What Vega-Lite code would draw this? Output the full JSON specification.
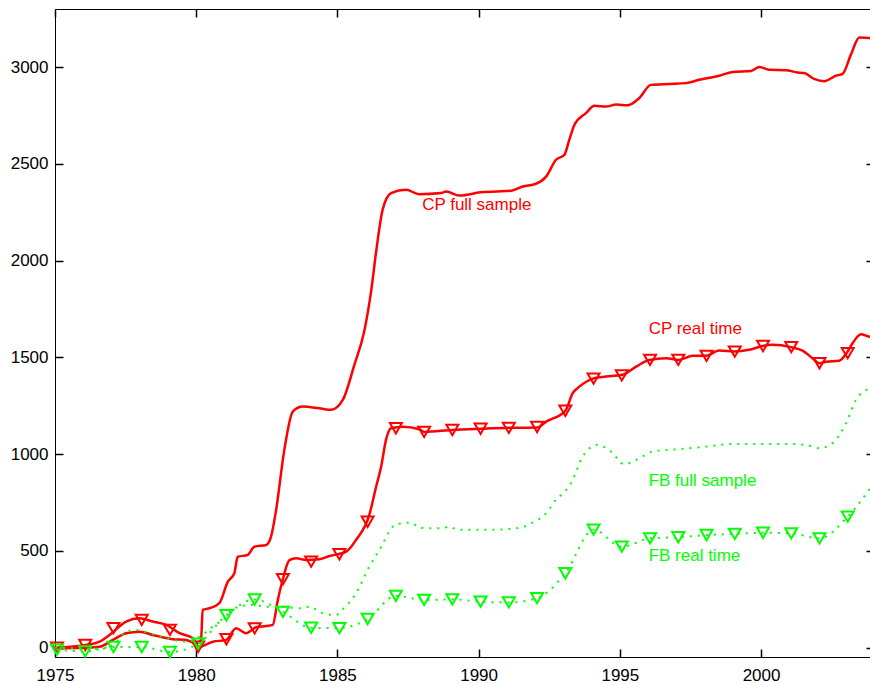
{
  "$schema": "https://vega.github.io/schema/vega-lite/v6.json",
  "autosize": "none",
  "width": 819,
  "height": 648,
  "padding": {"left": 55, "top": 9, "right": 0, "bottom": 28},
  "background": "white",
  "config": {"view": {"stroke": null}},
  "datasets": {
    "cpfull": [
      {"year": 1975.0, "value": -3}, {"year": 1975.98, "value": 0}, {"year": 1976.58, "value": 5},
      {"year": 1977.05, "value": 40}, {"year": 1977.52, "value": 75}, {"year": 1977.99, "value": 83},
      {"year": 1978.46, "value": 66}, {"year": 1979.17, "value": 44}, {"year": 1979.64, "value": 40},
      {"year": 1980.0, "value": 23}, {"year": 1980.17, "value": 40}, {"year": 1980.23, "value": 195},
      {"year": 1980.47, "value": 204}, {"year": 1980.82, "value": 230}, {"year": 1981.12, "value": 341},
      {"year": 1981.35, "value": 385}, {"year": 1981.47, "value": 470}, {"year": 1981.82, "value": 479},
      {"year": 1982.06, "value": 522}, {"year": 1982.48, "value": 531}, {"year": 1982.65, "value": 574},
      {"year": 1982.83, "value": 712}, {"year": 1983.12, "value": 1022}, {"year": 1983.42, "value": 1220},
      {"year": 1983.77, "value": 1246}, {"year": 1984.36, "value": 1237}, {"year": 1984.78, "value": 1229},
      {"year": 1985.19, "value": 1280}, {"year": 1985.6, "value": 1461}, {"year": 1985.96, "value": 1642},
      {"year": 1986.2, "value": 1849}, {"year": 1986.38, "value": 2056}, {"year": 1986.6, "value": 2262},
      {"year": 1986.9, "value": 2349}, {"year": 1987.43, "value": 2366}, {"year": 1987.9, "value": 2343},
      {"year": 1988.67, "value": 2349}, {"year": 1988.85, "value": 2357}, {"year": 1989.32, "value": 2336},
      {"year": 1990.14, "value": 2354}, {"year": 1991.15, "value": 2361}, {"year": 1991.56, "value": 2383},
      {"year": 1992.03, "value": 2397}, {"year": 1992.39, "value": 2434}, {"year": 1992.74, "value": 2521},
      {"year": 1993.04, "value": 2547}, {"year": 1993.21, "value": 2624}, {"year": 1993.39, "value": 2701},
      {"year": 1993.8, "value": 2762}, {"year": 1994.1, "value": 2800}, {"year": 1994.51, "value": 2796},
      {"year": 1994.87, "value": 2806}, {"year": 1995.28, "value": 2803}, {"year": 1995.69, "value": 2840},
      {"year": 1996.1, "value": 2908}, {"year": 1996.75, "value": 2913}, {"year": 1997.34, "value": 2917},
      {"year": 1997.81, "value": 2934}, {"year": 1998.52, "value": 2955}, {"year": 1998.99, "value": 2975},
      {"year": 1999.64, "value": 2980}, {"year": 1999.94, "value": 3000}, {"year": 2000.29, "value": 2986},
      {"year": 2000.88, "value": 2984}, {"year": 2001.29, "value": 2972}, {"year": 2001.53, "value": 2969},
      {"year": 2001.88, "value": 2939}, {"year": 2002.24, "value": 2927}, {"year": 2002.65, "value": 2955},
      {"year": 2002.89, "value": 2965}, {"year": 2003.18, "value": 3063}, {"year": 2003.48, "value": 3153},
      {"year": 2003.83, "value": 3150}, {"year": 2003.97, "value": 3146}
    ],
    "cpreal": [
      {"year": 1975.0, "value": 0}, {"year": 1976.1, "value": 14}, {"year": 1976.58, "value": 31},
      {"year": 1976.93, "value": 66}, {"year": 1977.52, "value": 135}, {"year": 1977.99, "value": 152},
      {"year": 1978.46, "value": 135}, {"year": 1978.94, "value": 118}, {"year": 1979.41, "value": 75},
      {"year": 1979.88, "value": 49}, {"year": 1980.09, "value": 4}, {"year": 1980.59, "value": 31},
      {"year": 1981.06, "value": 40}, {"year": 1981.41, "value": 101}, {"year": 1981.77, "value": 75},
      {"year": 1982.12, "value": 106}, {"year": 1982.48, "value": 112}, {"year": 1982.71, "value": 118},
      {"year": 1982.89, "value": 247}, {"year": 1983.06, "value": 350}, {"year": 1983.3, "value": 453},
      {"year": 1983.54, "value": 462}, {"year": 1983.89, "value": 453}, {"year": 1984.36, "value": 457},
      {"year": 1984.72, "value": 474}, {"year": 1985.31, "value": 496}, {"year": 1985.66, "value": 557},
      {"year": 1986.13, "value": 686}, {"year": 1986.37, "value": 832}, {"year": 1986.55, "value": 936},
      {"year": 1986.72, "value": 1074}, {"year": 1986.9, "value": 1134}, {"year": 1987.31, "value": 1142},
      {"year": 1987.9, "value": 1129}, {"year": 1988.08, "value": 1115}, {"year": 1989.07, "value": 1125},
      {"year": 1990.06, "value": 1131}, {"year": 1991.09, "value": 1136}, {"year": 1992.08, "value": 1138},
      {"year": 1992.39, "value": 1168}, {"year": 1993.07, "value": 1224}, {"year": 1993.33, "value": 1315},
      {"year": 1993.57, "value": 1349}, {"year": 1994.1, "value": 1393}, {"year": 1994.51, "value": 1401},
      {"year": 1995.08, "value": 1410}, {"year": 1995.58, "value": 1452}, {"year": 1996.04, "value": 1487},
      {"year": 1996.64, "value": 1496}, {"year": 1997.08, "value": 1487}, {"year": 1997.58, "value": 1508},
      {"year": 1998.05, "value": 1508}, {"year": 1998.52, "value": 1535}, {"year": 1999.05, "value": 1530},
      {"year": 1999.58, "value": 1539}, {"year": 2000.05, "value": 1559}, {"year": 2000.41, "value": 1565},
      {"year": 2001.06, "value": 1553}, {"year": 2001.47, "value": 1535}, {"year": 2001.82, "value": 1496},
      {"year": 2002.06, "value": 1470}, {"year": 2002.3, "value": 1478}, {"year": 2002.77, "value": 1483},
      {"year": 2003.03, "value": 1522}, {"year": 2003.24, "value": 1573}, {"year": 2003.54, "value": 1620},
      {"year": 2003.83, "value": 1607}, {"year": 2003.97, "value": 1606}
    ],
    "cpmark": [
      {"year": 1975.07, "value": 0}, {"year": 1976.07, "value": 14}, {"year": 1977.07, "value": 101},
      {"year": 1978.07, "value": 144}, {"year": 1979.07, "value": 92}, {"year": 1980.07, "value": 5},
      {"year": 1981.07, "value": 44}, {"year": 1982.07, "value": 100}, {"year": 1983.07, "value": 354},
      {"year": 1984.07, "value": 445}, {"year": 1985.07, "value": 483}, {"year": 1986.07, "value": 651},
      {"year": 1987.07, "value": 1134}, {"year": 1988.07, "value": 1115}, {"year": 1989.07, "value": 1125},
      {"year": 1990.07, "value": 1131}, {"year": 1991.07, "value": 1136}, {"year": 1992.07, "value": 1140},
      {"year": 1993.07, "value": 1224}, {"year": 1994.07, "value": 1390}, {"year": 1995.07, "value": 1407},
      {"year": 1996.07, "value": 1487}, {"year": 1997.07, "value": 1487}, {"year": 1998.07, "value": 1508},
      {"year": 1999.07, "value": 1530}, {"year": 2000.07, "value": 1559}, {"year": 2001.07, "value": 1553},
      {"year": 2002.07, "value": 1470}, {"year": 2003.07, "value": 1522}
    ],
    "fbfull": [
      {"year": 1975.0, "value": 0}, {"year": 1976.58, "value": -6}, {"year": 1977.05, "value": 14},
      {"year": 1977.52, "value": 83}, {"year": 1977.87, "value": 92}, {"year": 1978.35, "value": 75},
      {"year": 1978.94, "value": 49}, {"year": 1979.64, "value": 31}, {"year": 1980.12, "value": 57},
      {"year": 1980.59, "value": 109}, {"year": 1981.06, "value": 160}, {"year": 1981.29, "value": 200},
      {"year": 1982.0, "value": 222}, {"year": 1982.48, "value": 212}, {"year": 1983.06, "value": 212},
      {"year": 1983.65, "value": 204}, {"year": 1984.01, "value": 212}, {"year": 1984.48, "value": 178},
      {"year": 1984.95, "value": 169}, {"year": 1985.19, "value": 199}, {"year": 1985.66, "value": 281},
      {"year": 1986.13, "value": 419}, {"year": 1986.55, "value": 522}, {"year": 1986.84, "value": 600},
      {"year": 1987.02, "value": 634}, {"year": 1987.31, "value": 643}, {"year": 1987.61, "value": 646},
      {"year": 1987.84, "value": 626}, {"year": 1988.14, "value": 617}, {"year": 1988.73, "value": 617},
      {"year": 1988.96, "value": 626}, {"year": 1989.26, "value": 609}, {"year": 1990.03, "value": 609},
      {"year": 1990.97, "value": 612}, {"year": 1991.33, "value": 617}, {"year": 1991.56, "value": 622},
      {"year": 1991.86, "value": 643}, {"year": 1992.09, "value": 660}, {"year": 1992.33, "value": 686},
      {"year": 1992.5, "value": 716}, {"year": 1992.68, "value": 755}, {"year": 1992.92, "value": 789},
      {"year": 1993.1, "value": 815}, {"year": 1993.33, "value": 867}, {"year": 1993.68, "value": 987},
      {"year": 1994.21, "value": 1048}, {"year": 1994.69, "value": 1013}, {"year": 1995.16, "value": 948},
      {"year": 1995.69, "value": 979}, {"year": 1996.16, "value": 1013}, {"year": 1997.11, "value": 1026},
      {"year": 1998.05, "value": 1039}, {"year": 1999.0, "value": 1053}, {"year": 1999.94, "value": 1053},
      {"year": 2000.88, "value": 1053}, {"year": 2001.59, "value": 1048}, {"year": 2002.06, "value": 1031},
      {"year": 2002.53, "value": 1057}, {"year": 2003.01, "value": 1160}, {"year": 2003.36, "value": 1280},
      {"year": 2003.83, "value": 1341}, {"year": 2003.97, "value": 1353}
    ],
    "fbreal": [
      {"year": 1975.07, "value": -10}, {"year": 1976.07, "value": -19}, {"year": 1977.07, "value": 4},
      {"year": 1978.07, "value": 4}, {"year": 1979.07, "value": -22}, {"year": 1980.07, "value": 21},
      {"year": 1981.07, "value": 168}, {"year": 1982.07, "value": 249}, {"year": 1983.07, "value": 185},
      {"year": 1984.07, "value": 103}, {"year": 1985.07, "value": 101}, {"year": 1986.07, "value": 148},
      {"year": 1987.07, "value": 268}, {"year": 1988.07, "value": 247}, {"year": 1989.07, "value": 250},
      {"year": 1990.07, "value": 238}, {"year": 1991.07, "value": 234}, {"year": 1992.07, "value": 256},
      {"year": 1993.07, "value": 385}, {"year": 1994.07, "value": 610}, {"year": 1995.07, "value": 522},
      {"year": 1996.07, "value": 565}, {"year": 1997.07, "value": 571}, {"year": 1998.07, "value": 582},
      {"year": 1999.07, "value": 588}, {"year": 2000.07, "value": 594}, {"year": 2001.07, "value": 591},
      {"year": 2002.07, "value": 565}, {"year": 2003.07, "value": 677}, {"year": 2003.97, "value": 845}
    ],
    "fbmark": [
      {"year": 1975.07, "value": -10}, {"year": 1976.07, "value": -19}, {"year": 1977.07, "value": 4},
      {"year": 1978.07, "value": 4}, {"year": 1979.07, "value": -22}, {"year": 1980.07, "value": 21},
      {"year": 1981.07, "value": 168}, {"year": 1982.07, "value": 249}, {"year": 1983.07, "value": 185},
      {"year": 1984.07, "value": 103}, {"year": 1985.07, "value": 101}, {"year": 1986.07, "value": 148},
      {"year": 1987.07, "value": 268}, {"year": 1988.07, "value": 247}, {"year": 1989.07, "value": 250},
      {"year": 1990.07, "value": 238}, {"year": 1991.07, "value": 234}, {"year": 1992.07, "value": 256},
      {"year": 1993.07, "value": 385}, {"year": 1994.07, "value": 610}, {"year": 1995.07, "value": 522},
      {"year": 1996.07, "value": 565}, {"year": 1997.07, "value": 571}, {"year": 1998.07, "value": 582},
      {"year": 1999.07, "value": 588}, {"year": 2000.07, "value": 594}, {"year": 2001.07, "value": 591},
      {"year": 2002.07, "value": 565}, {"year": 2003.07, "value": 677}
    ],
    "labels": [
      {"year": 1988.0, "value": 2288, "label": "CP full sample", "series": "CP"},
      {"year": 1996.02, "value": 1647, "label": "CP real time", "series": "CP"},
      {"year": 1996.02, "value": 859, "label": "FB full sample", "series": "FB"},
      {"year": 1996.02, "value": 474, "label": "FB real time", "series": "FB"}
    ]
  },
  "resolve": {"axis": {"x": "independent", "y": "independent"}},
  "layer": [
    {
      "data": {"name": "cpfull"},
      "mark": {"type": "line", "color": "#ff0000", "strokeWidth": 2.5, "interpolate": "monotone"},
      "encoding": {
        "x": {"field": "year", "type": "quantitative",
              "scale": {"domain": [1975, 2004], "nice": false, "zero": false},
              "axis": {"orient": "bottom", "values": [1975, 1980, 1985, 1990, 1995, 2000], "format": "d", "title": null, "gridOpacity": 0,
                       "domainColor": "black", "tickSize": -8, "tickWidth": 1.5, "tickColor": "black",
                       "labelPadding": 18, "labelFlush": false, "labelFont": "Liberation Sans", "labelFontSize": 17, "labelColor": "black"}},
        "y": {"field": "value", "type": "quantitative",
              "scale": {"domain": [-48, 3300], "nice": false, "zero": false},
              "axis": {"orient": "left", "values": [0, 500, 1000, 1500, 2000, 2500, 3000], "format": "d", "title": null, "gridOpacity": 0,
                       "domainColor": "black", "tickSize": -8, "tickWidth": 1.5, "tickColor": "black",
                       "labelPadding": 15, "labelFlush": false, "labelFont": "Liberation Sans", "labelFontSize": 17, "labelColor": "black"}}
      }
    },
    {
      "data": {"name": "cpreal"},
      "mark": {"type": "line", "color": "#ff0000", "strokeWidth": 2.5, "interpolate": "monotone"},
      "encoding": {
        "x": {"field": "year", "type": "quantitative",
              "axis": {"orient": "top", "values": [1975, 1980, 1985, 1990, 1995, 2000], "labels": false, "title": null, "gridOpacity": 0,
                       "domainColor": "black", "tickSize": -8, "tickWidth": 1.5, "tickColor": "black"}},
        "y": {"field": "value", "type": "quantitative",
              "axis": {"orient": "right", "values": [0, 500, 1000, 1500, 2000, 2500, 3000], "labels": false, "title": null, "gridOpacity": 0,
                       "domainColor": "black", "tickSize": -8, "tickWidth": 1.5, "tickColor": "black"}}
      }
    },
    {
      "data": {"name": "cpmark"},
      "mark": {"type": "point", "shape": "triangle-down", "size": 144, "filled": false, "color": "#ff0000", "strokeWidth": 2, "opacity": 1},
      "encoding": {
        "x": {"field": "year", "type": "quantitative", "axis": null},
        "y": {"field": "value", "type": "quantitative", "axis": null}
      }
    },
    {
      "data": {"name": "fbfull"},
      "mark": {"type": "line", "color": "#00ff00", "strokeWidth": 2, "strokeDash": [2, 6], "interpolate": "monotone"},
      "encoding": {
        "x": {"field": "year", "type": "quantitative", "axis": null},
        "y": {"field": "value", "type": "quantitative", "axis": null}
      }
    },
    {
      "data": {"name": "fbreal"},
      "mark": {"type": "line", "color": "#00ff00", "strokeWidth": 2, "strokeDash": [2, 6], "interpolate": "monotone"},
      "encoding": {
        "x": {"field": "year", "type": "quantitative", "axis": null},
        "y": {"field": "value", "type": "quantitative", "axis": null}
      }
    },
    {
      "data": {"name": "fbmark"},
      "mark": {"type": "point", "shape": "triangle-down", "size": 144, "filled": false, "color": "#00ff00", "strokeWidth": 2, "opacity": 1},
      "encoding": {
        "x": {"field": "year", "type": "quantitative", "axis": null},
        "y": {"field": "value", "type": "quantitative", "axis": null}
      }
    },
    {
      "data": {"name": "labels"},
      "mark": {"type": "text", "align": "left", "baseline": "middle", "font": "Liberation Sans", "fontSize": 17},
      "encoding": {
        "x": {"field": "year", "type": "quantitative", "axis": null},
        "y": {"field": "value", "type": "quantitative", "axis": null},
        "text": {"field": "label"},
        "color": {"field": "series", "type": "nominal", "scale": {"domain": ["CP", "FB"], "range": ["#ff0000", "#00ff00"]}, "legend": null}
      }
    }
  ]
}
